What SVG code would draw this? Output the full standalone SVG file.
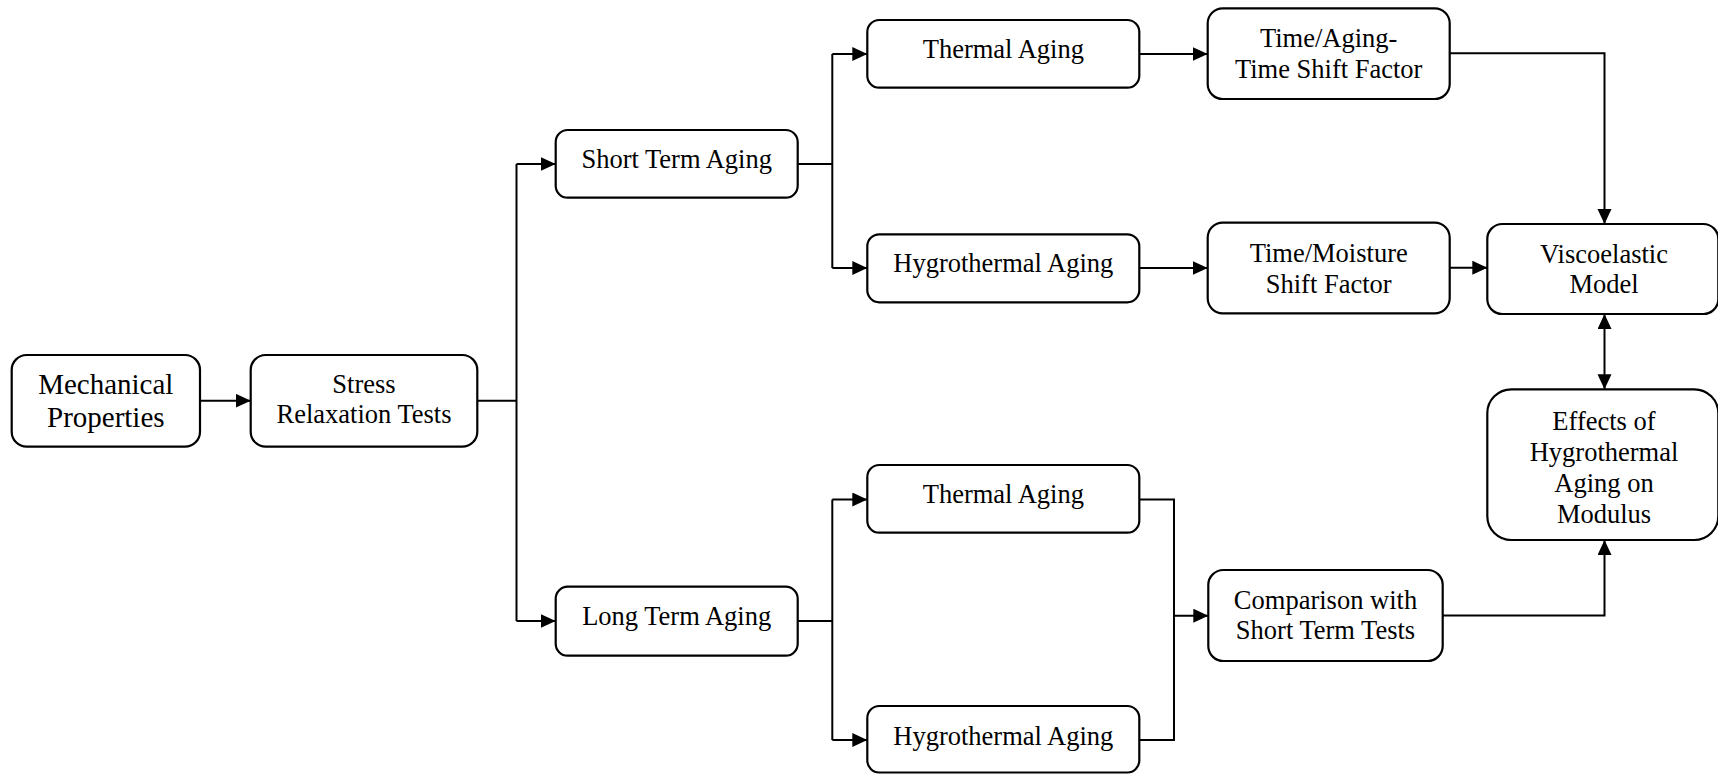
<svg xmlns="http://www.w3.org/2000/svg" width="1718" height="774" viewBox="0 0 1718 774">
<style>
.box{fill:#fff;stroke:#000;stroke-width:2.2}
.t{font-family:"Liberation Serif","Times New Roman",serif;font-size:26.5px;fill:#000;text-anchor:middle}
.big{font-size:29px}
.c{fill:none;stroke:#000;stroke-width:2}
.a{marker-end:url(#ah)}
</style>
<defs>
<marker id="ah" markerUnits="userSpaceOnUse" markerWidth="16" markerHeight="15" refX="15" refY="7" orient="auto">
<path d="M0,0 L15,7 L0,14 z" fill="#000"/>
</marker>
<marker id="as" markerUnits="userSpaceOnUse" markerWidth="16" markerHeight="15" refX="15" refY="7" orient="auto-start-reverse">
<path d="M0,0 L15,7 L0,14 z" fill="#000"/>
</marker>
</defs>
<rect width="1718" height="774" fill="#fff"/>
<g id="connectors">
<path class="c a" d="M200,400.7 H250.7"/>
<path class="c" d="M477.3,400.7 H516.5"/>
<path class="c" d="M516.5,164 V621"/>
<path class="c a" d="M516.5,164 H555.7"/>
<path class="c a" d="M516.5,621 H555.7"/>
<path class="c" d="M797.7,164 H832.3 M832.3,54 V268"/>
<path class="c a" d="M832.3,54 H867.3"/>
<path class="c a" d="M832.3,268 H867.3"/>
<path class="c" d="M797.7,621 H832.3 M832.3,499.5 V740"/>
<path class="c a" d="M832.3,499.5 H867.3"/>
<path class="c a" d="M832.3,740 H867.3"/>
<path class="c a" d="M1139.3,54 H1207.7"/>
<path class="c a" d="M1139.3,268 H1207.7"/>
<path class="c a" d="M1449.7,53.3 H1604.5 V224"/>
<path class="c a" d="M1449.7,267.7 H1487.3"/>
<path class="c" d="M1139.3,499.5 H1174 V740 H1139.3"/>
<path class="c a" d="M1174,615.7 H1208.3"/>
<path class="c a" d="M1442.7,615.5 H1604.5 V540"/>
<path class="c" d="M1604.5,314 V389.3" marker-start="url(#as)" marker-end="url(#as)"/>
</g>
<g id="mechanical">
<rect class="box" x="11.7" y="355" width="188.3" height="91.7" rx="15"/>
<text class="t big" x="105.8" y="394">Mechanical</text>
<text class="t big" x="105.8" y="427">Properties</text>
</g>
<g id="stress">
<rect class="box" x="250.7" y="355" width="226.6" height="91.7" rx="15"/>
<text class="t" x="364" y="393.3">Stress</text>
<text class="t" x="364" y="423.3">Relaxation Tests</text>
</g>
<g id="short-term">
<rect class="box" x="555.7" y="130" width="242" height="67.7" rx="12"/>
<text class="t" x="676.7" y="168.3">Short Term Aging</text>
</g>
<g id="long-term">
<rect class="box" x="555.7" y="586.7" width="242" height="69" rx="12"/>
<text class="t" x="676.7" y="625">Long Term Aging</text>
</g>
<g id="thermal-short">
<rect class="box" x="867.3" y="20" width="272" height="67.7" rx="12"/>
<text class="t" x="1003.3" y="58.3">Thermal Aging</text>
</g>
<g id="hygro-short">
<rect class="box" x="867.3" y="234.3" width="272" height="68" rx="12"/>
<text class="t" x="1003.3" y="271.7">Hygrothermal Aging</text>
</g>
<g id="thermal-long">
<rect class="box" x="867.3" y="465" width="272" height="67.7" rx="12"/>
<text class="t" x="1003.3" y="503.3">Thermal Aging</text>
</g>
<g id="hygro-long">
<rect class="box" x="867.3" y="706" width="272" height="66.5" rx="12"/>
<text class="t" x="1003.3" y="745">Hygrothermal Aging</text>
</g>
<g id="time-aging">
<rect class="box" x="1207.7" y="8.3" width="242" height="90.7" rx="15"/>
<text class="t" x="1328.7" y="46.7">Time/Aging-</text>
<text class="t" x="1328.7" y="78.3">Time Shift Factor</text>
</g>
<g id="time-moisture">
<rect class="box" x="1207.7" y="222.7" width="242" height="90.6" rx="15"/>
<text class="t" x="1328.7" y="261.7">Time/Moisture</text>
<text class="t" x="1328.7" y="292.7">Shift Factor</text>
</g>
<g id="viscoelastic">
<rect class="box" x="1487.3" y="224" width="231" height="90" rx="15"/>
<text class="t" x="1604" y="262.7">Viscoelastic</text>
<text class="t" x="1604" y="293.3">Model</text>
</g>
<g id="effects">
<rect class="box" x="1487.3" y="389.3" width="231" height="150.7" rx="24"/>
<text class="t" x="1604" y="430">Effects of</text>
<text class="t" x="1604" y="461">Hygrothermal</text>
<text class="t" x="1604" y="491.7">Aging on</text>
<text class="t" x="1604" y="522.7">Modulus</text>
</g>
<g id="comparison">
<rect class="box" x="1208.3" y="570" width="234.4" height="91" rx="15"/>
<text class="t" x="1325.5" y="609.3">Comparison with</text>
<text class="t" x="1325.5" y="639.3">Short Term Tests</text>
</g>
</svg>
